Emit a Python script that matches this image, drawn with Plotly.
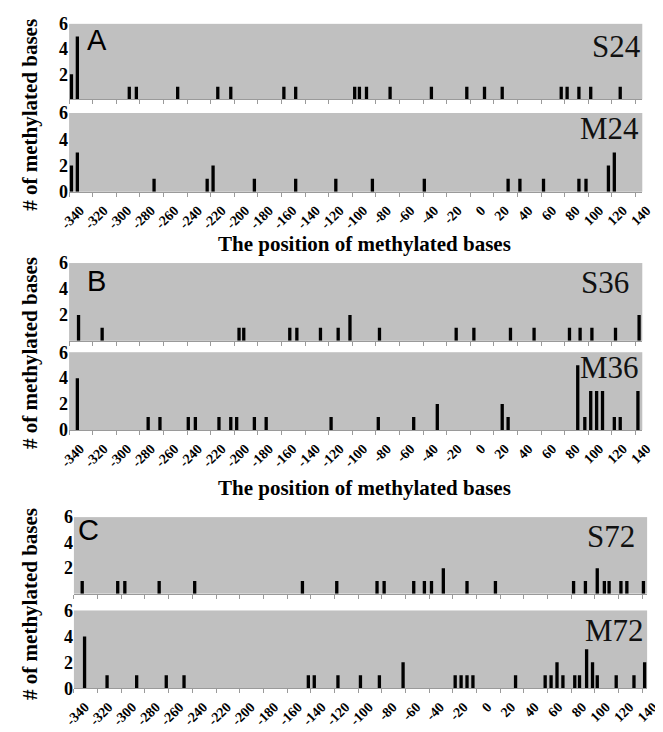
import plotly.graph_objects as go

# ---------------- data (position of methylated base, count) ----------------
s24_pos = [-338, -333, -289, -283, -248, -214, -203, -158, -148, -98, -94, -88, -68, -33, -3, 12, 27, 77, 82, 92, 102, 127]
s24_cnt = [2, 5, 1, 1, 1, 1, 1, 1, 1, 1, 1, 1, 1, 1, 1, 1, 1, 1, 1, 1, 1, 1]

m24_pos = [-338, -333, -268, -223, -218, -183, -148, -114, -83, -39, 32, 42, 62, 92, 98, 117, 122]
m24_cnt = [2, 3, 1, 1, 2, 1, 1, 1, 1, 1, 1, 1, 1, 1, 1, 2, 3]

s36_pos = [-332, -312, -196, -192, -153, -147, -127, -112, -102, -77, -12, 3, 34, 54, 84, 93, 103, 123, 143]
s36_cnt = [2, 1, 1, 1, 1, 1, 1, 1, 2, 1, 1, 1, 1, 1, 1, 1, 1, 1, 2]

m36_pos = [-333, -273, -263, -239, -233, -213, -203, -198, -183, -173, -118, -78, -48, -28, 27, 32, 91, 97, 102, 107, 112, 122, 127, 142]
m36_cnt = [4, 1, 1, 1, 1, 1, 1, 1, 1, 1, 1, 1, 1, 2, 2, 1, 5, 1, 3, 3, 3, 1, 1, 3]

s72_pos = [-333, -303, -297, -268, -238, -147, -118, -84, -78, -53, -44, -38, -28, -8, 16, 82, 92, 102, 108, 112, 122, 127, 141]
s72_cnt = [1, 1, 1, 1, 1, 1, 1, 1, 1, 1, 1, 1, 2, 1, 1, 1, 1, 2, 1, 1, 1, 1, 1]

m72_pos = [-331, -312, -287, -262, -247, -142, -137, -117, -98, -82, -62, -18, -13, -8, -3, 33, 58, 63, 68, 73, 83, 87, 93, 98, 102, 118, 133, 142]
m72_cnt = [4, 1, 1, 1, 1, 1, 1, 1, 1, 1, 2, 1, 1, 1, 1, 1, 1, 1, 2, 1, 1, 1, 3, 2, 1, 1, 1, 2]

x_ticks = list(range(-340, 141, 20))
x_ticktext = [str(v) for v in x_ticks]
panel_names = ["S24", "M24", "S36", "M36", "S72", "M72"]
panel_letters = ["A", "B", "C"]
y_title = "# of methylated bases"
x_title = "The position of methylated bases"

# ---------------- layout geometry (window pixels; page body has an 8px margin) ----------------
WIN_W, WIN_H, OFF = 663, 732, 8
W, H = WIN_W - OFF, WIN_H - OFF
def fx(px): return (px - OFF) / W
def fy(py): return 1 - (py - OFF) / H

panels = [
    dict(pos=s24_pos, cnt=s24_cnt, x0=60, x1=655, y0=14, y1=91.7, lab=False, xr=145.7, ny=(655, 37)),
    dict(pos=m24_pos, cnt=m24_cnt, x0=60, x1=655, y0=105.7, y1=186.7, lab=True, xr=145.7, ny=(653, 122)),
    dict(pos=s36_pos, cnt=s36_cnt, x0=60, x1=655, y0=260, y1=340, lab=False, xr=145.7, ny=(642, 280)),
    dict(pos=m36_pos, cnt=m36_cnt, x0=60, x1=655, y0=351.7, y1=431.7, lab=True, xr=145.7, ny=(653, 367)),
    dict(pos=s72_pos, cnt=s72_cnt, x0=65, x1=660, y0=521.3, y1=600, lab=False, xr=144.1, ny=(648, 541)),
    dict(pos=m72_pos, cnt=m72_cnt, x0=65, x1=660, y0=617.3, y1=697.3, lab=True, xr=144.1, ny=(658, 638)),
]

serif = "Liberation Serif"
fig = go.Figure()
layout = {}
annotations = []
for i, p in enumerate(panels, start=1):
    xa = "x" if i == 1 else f"x{i}"
    ya = "y" if i == 1 else f"y{i}"
    fig.add_trace(go.Bar(x=p["pos"], y=p["cnt"], xaxis=xa, yaxis=ya,
                         marker=dict(color="black", line=dict(width=0)),
                         width=2.8, showlegend=False, hoverinfo="x+y"))
    layout[f"xaxis{i}"] = dict(
        domain=[fx(p["x0"]), min(1, fx(p["x1"]))], range=[-340, p["xr"]], anchor=ya,
        tickmode="array", tickvals=x_ticks, ticktext=x_ticktext,
        showticklabels=p["lab"], ticks="outside", ticklen=4, tickwidth=1,
        tickcolor="#9a9a9a", showline=True, linecolor="#9a9a9a", linewidth=1,
        showgrid=False, zeroline=False, tickangle=-45, ticklabelshift=11,
        ticklabeloverflow="allow",
        tickfont=dict(family=serif, size=14, color="black", weight="bold"),
    )
    layout[f"yaxis{i}"] = dict(
        domain=[fy(p["y1"]), fy(p["y0"])], range=[0, 6], anchor=xa,
        tickmode="array", tickvals=([0, 2, 4, 6] if p["lab"] else [2, 4, 6]),
        showgrid=False, zeroline=False, ticks="", showline=False,
        tickfont=dict(family=serif, size=18, color="black", weight="bold"),
    )
    annotations.append(dict(text=panel_names[i - 1], xref="paper", yref="paper",
                            x=min(1, fx(p["ny"][0])), y=fy(p["ny"][1]), xanchor="right", yanchor="middle",
                            showarrow=False, borderpad=0,
                            font=dict(family=serif, size=31, color="#111")))

# panel letters
for letter, (lx, ly) in zip(panel_letters, [(77, 31), (76, 278), (67, 535)]):
    annotations.append(dict(text=letter, xref="paper", yref="paper", x=fx(lx), y=fy(ly),
                            xanchor="left", yanchor="middle", showarrow=False,
                            font=dict(family="Liberation Sans", size=29, color="black")))

# y titles
for cy in [108, 353, 611]:
    annotations.append(dict(text=y_title, xref="paper", yref="paper", x=fx(20), y=fy(cy),
                            xanchor="center", yanchor="middle", textangle=-90, showarrow=False,
                            font=dict(family=serif, size=21, color="black", weight="bold")))

# x titles
for cy in [240, 491]:
    annotations.append(dict(text=x_title, xref="paper", yref="paper", x=fx(367), y=fy(cy),
                            xanchor="center", yanchor="middle", showarrow=False,
                            font=dict(family=serif, size=21, color="black", weight="bold")))

fig.update_layout(
    width=W, height=H, margin=dict(l=0, r=0, t=0, b=0),
    paper_bgcolor="white", plot_bgcolor="#c0c0c0",
    barmode="overlay", showlegend=False, annotations=annotations,
    **layout,
)
fig.write_html("out.html")
